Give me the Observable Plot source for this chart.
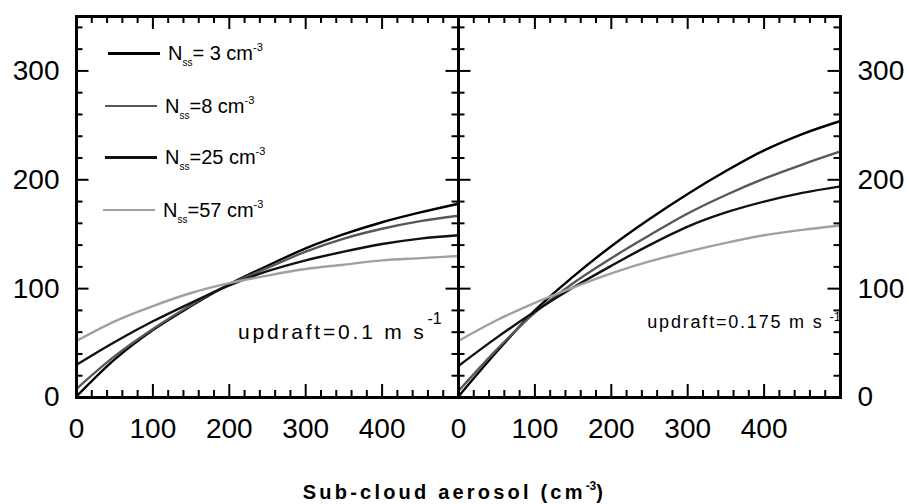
<!DOCTYPE html>
<html>
<head>
<meta charset="utf-8">
<script src="https://cdn.jsdelivr.net/npm/d3@7"></script>
<script src="https://cdn.jsdelivr.net/npm/@observablehq/plot@0.6"></script>
<style>
  body { margin: 0; background: #fff; font-family: "Liberation Sans", Arial, sans-serif; }
  #wrap { position: relative; width: 909px; height: 504px; overflow: hidden; }
  #chart svg { display: block; }
  .lrow { position: absolute; display: flex; align-items: center; height: 24px; font-size: 20px; color: #000; white-space: nowrap; }
  .lrow .sw { display: inline-block; width: 52px; height: 0; margin-right: 8px; }
  .lrow sub { font-size: 10px; vertical-align: -6px; line-height: 0; }
  .lrow sup { font-size: 11px; vertical-align: 9px; line-height: 0; }
  #title { text-align: center; width: 909px; margin-top: 22px; font-weight: bold; font-size: 20px; letter-spacing: 3.2px; line-height: 20px; }
  #title sup { font-size: 12px; vertical-align: 9px; line-height: 0; letter-spacing: 0; }
</style>
</head>
<body>
<div id="wrap">
  <div id="chart"></div>
  <div id="legend"></div>
  <div id="title">Sub-cloud aerosol (cm<sup>-3</sup>)</div>
</div>
<script>
// ---------- data ----------
const panels = ["0.1", "0.175"];                 // updraft, m s-1
const seriesNames = ["Nss=3", "Nss=8", "Nss=25", "Nss=57"];
const nssValues = [3, 8, 25, 57];
const seriesColors = ["#000000", "#585858", "#111111", "#a0a0a0"];
const aerosol = [0, 50, 100, 150, 200, 250, 300, 350, 400, 450, 500];

// updraft = 0.1 m s-1
const p1_N3  = [1, 35, 62, 84, 104, 121, 137, 150, 161, 170, 178];
const p1_N8  = [8, 38, 63, 85, 104, 119, 134, 146, 155, 162, 167];
const p1_N25 = [30, 51, 70, 87, 103, 116, 126, 134, 141, 146, 149];
const p1_N57 = [52, 70, 84, 96, 105, 112, 118, 122, 126, 128, 130];

// updraft = 0.175 m s-1
const p2_N3  = [1, 42, 80, 111, 139, 164, 187, 208, 227, 242, 254];
const p2_N8  = [6, 44, 78, 105, 128, 149, 169, 186, 201, 214, 226];
const p2_N25 = [29, 55, 79, 101, 121, 140, 157, 170, 180, 188, 194];
const p2_N57 = [52, 71, 87, 101, 114, 125, 134, 142, 149, 154, 158];

const xLabels = [0, 100, 200, 300, 400];
const yLabels = [0, 100, 200, 300];
const xMajor = [0, 100, 200, 300, 400, 500];
const xMinor = [20, 40, 60, 80, 120, 140, 160, 180, 220, 240, 260, 280, 320, 340, 360, 380, 420, 440, 460, 480];
const yMajor = [0, 100, 200, 300];
const yMinor = [20, 40, 60, 80, 120, 140, 160, 180, 220, 240, 260, 280, 320, 340];

const annotText = ["updraft=0.1 m s", "updraft=0.175 m s"];
const annotSup = "-1";

// ---------- build table ----------
const table = [
  [p1_N3, p1_N8, p1_N25, p1_N57],
  [p2_N3, p2_N8, p2_N25, p2_N57]
];
const rows = [];
panels.forEach((p, pi) => {
  seriesNames.forEach((s, si) => {
    aerosol.forEach((x, k) => rows.push({panel: p, series: s, x, y: table[pi][si][k]}));
  });
});

// ---------- layout ----------
const W = 909, H = 460, mL = 75, mR = 69, mT = 16, mB = 63;
const innerH = H - mT - mB;
const facetW = (W - mL - mR) / 2;
const majorLen = 13, minorLen = 7;
const font = '"Liberation Sans", Arial, sans-serif';

const chart = Plot.plot({
  width: W, height: H,
  marginLeft: mL, marginRight: mR, marginTop: mT, marginBottom: mB,
  style: {fontFamily: font, fontSize: "28px", color: "#000", background: "#fff", overflow: "visible"},
  fx: {domain: panels, padding: 0, axis: null},
  x: {domain: [0, 500], axis: null},
  y: {domain: [0, 350], axis: null},
  color: {domain: seriesNames, range: seriesColors},
  marks: [
    Plot.line(rows, {fx: "panel", x: "x", y: "y", z: "series", stroke: "series", strokeWidth: 2.4, curve: "monotone-x"}),
    // bottom ticks
    Plot.tickX(xMajor, {x: d => d, insetTop: innerH - majorLen, strokeWidth: 2}),
    Plot.tickX(xMinor, {x: d => d, insetTop: innerH - minorLen, strokeWidth: 2}),
    // top ticks
    Plot.tickX(xMajor, {x: d => d, insetBottom: innerH - majorLen, strokeWidth: 2}),
    Plot.tickX(xMinor, {x: d => d, insetBottom: innerH - minorLen, strokeWidth: 2}),
    // left ticks of each panel
    Plot.tickY(yMajor, {y: d => d, insetRight: facetW - majorLen, strokeWidth: 2}),
    Plot.tickY(yMinor, {y: d => d, insetRight: facetW - minorLen, strokeWidth: 2}),
    // right ticks of each panel
    Plot.tickY(yMajor, {y: d => d, insetLeft: facetW - majorLen, strokeWidth: 2}),
    Plot.tickY(yMinor, {y: d => d, insetLeft: facetW - minorLen, strokeWidth: 2}),
    Plot.axisY({anchor: "left", ticks: yLabels, tickSize: 0, tickPadding: 17, fontSize: 28, label: null}),
    Plot.axisY({anchor: "right", ticks: yLabels, tickSize: 0, tickPadding: 17, fontSize: 28, label: null}),
    Plot.axisX({anchor: "bottom", ticks: xLabels, tickSize: 0, tickPadding: 21, fontSize: 28, label: null}),
    // annotations
    Plot.text([{panel: panels[0], t: annotText[0]}], {fx: "panel", text: "t", frameAnchor: "bottom-right", textAnchor: "end", dx: -32, dy: -59, fontSize: 21}),
    Plot.text([{panel: panels[0], t: annotSup}], {fx: "panel", text: "t", frameAnchor: "bottom-right", textAnchor: "start", dx: -31, dy: -74, fontSize: 16}),
    Plot.text([{panel: panels[1], t: annotText[1]}], {fx: "panel", text: "t", frameAnchor: "bottom-right", textAnchor: "end", dx: -17, dy: -70, fontSize: 18}),
    Plot.text([{panel: panels[1], t: annotSup}], {fx: "panel", text: "t", frameAnchor: "bottom-right", textAnchor: "start", dx: -11, dy: -77, fontSize: 13}),
    Plot.frame({strokeWidth: 3})
  ]
});
d3.select(chart).selectAll("text").filter(function () { return this.textContent === annotText[0]; }).style("letter-spacing", "2.8px");
d3.select(chart).selectAll("text").filter(function () { return this.textContent === annotText[1]; }).style("letter-spacing", "1.8px");
document.getElementById("chart").appendChild(chart);

// ---------- legend (inside left panel) ----------
const legendTop = [53, 106, 157, 210];
const legendLeft = [108, 105, 105, 103];
const swatchW = [3, 2.2, 3, 2.2];
const legend = document.getElementById("legend");
seriesNames.forEach((s, i) => {
  const row = document.createElement("div");
  row.className = "lrow";
  row.style.left = legendLeft[i] + "px";
  row.style.top = (legendTop[i] - 12) + "px";
  const sw = document.createElement("span");
  sw.className = "sw";
  sw.style.borderTop = `${swatchW[i]}px solid ${seriesColors[i]}`;
  row.appendChild(sw);
  const t = document.createElement("span");
  t.innerHTML = `N<sub>ss</sub>=${i === 0 ? " " : ""}${nssValues[i]} cm<sup>-3</sup>`;
  row.appendChild(t);
  legend.appendChild(row);
});
</script>
</body>
</html>
